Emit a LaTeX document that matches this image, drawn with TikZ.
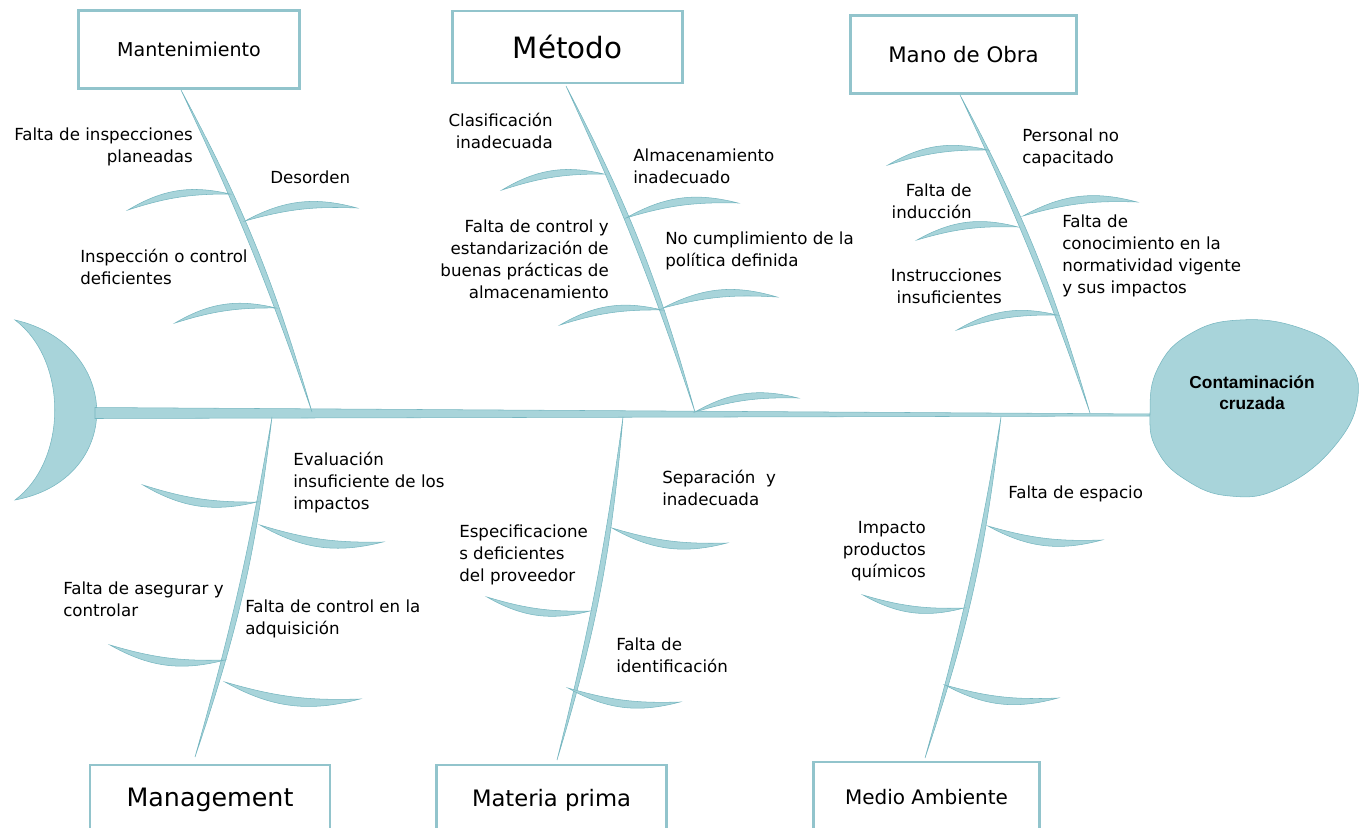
\documentclass[tikz,border=0pt]{standalone}
\usepackage{fontspec}
\setmainfont{DejaVu Sans}
\newfontfamily\effectfont{Liberation Sans}
\usetikzlibrary{positioning,calc}

\definecolor{fishfill}{RGB}{168,212,218}
\definecolor{fishline}{RGB}{118,182,192}
\definecolor{boxline}{RGB}{146,196,204}

\begin{document}
\begin{tikzpicture}[
    x=0.75pt, y=-0.75pt,
    cat/.style={draw=boxline, line width=2.1pt, fill=white, inner sep=0pt},
    cause/.style={inner sep=0pt, font=\fontsize{12.5}{16.5}\selectfont},
    bone/.style={fill=fishfill, draw=fishline, line width=0.4pt}
]
    \clip (0,0) rectangle (1361,828);

    % Tail and backbone
    \coordinate (tail) at (95,413);
    \coordinate (mouth) at (1152,415);
    \draw[bone] (15,320) .. controls (124,345) and (124,480) .. (15,500)
                .. controls (68,460) and (68,360) .. (15,320) -- cycle;
    \draw[bone] ($(tail)+(0,-5.5)$) -- ($(mouth)+(0,-1)$) -- ($(mouth)+(0,1)$) -- ($(tail)+(0,5.5)$) -- cycle;

    % Head
    \draw[bone] plot[smooth cycle, tension=0.75] coordinates {(1150,413) (1158,368) (1190,334) (1240,320) (1300,328) (1343,355) (1358,396) (1333,448) (1280,488) (1230,496) (1186,480) (1157,450)};
    \node[font=\effectfont\bfseries\fontsize{13}{16}\selectfont, align=center] (head) at (1252,393) {Contaminación\\cruzada};

    % Bone ends
    \coordinate (mant-a) at (181,90);
    \coordinate (mant-b) at (312,412);
    \coordinate (metodo-a) at (566,86);
    \coordinate (metodo-b) at (695,412);
    \coordinate (mano-a) at (960,95);
    \coordinate (mano-b) at (1090,413);
    \coordinate (manag-a) at (272,417);
    \coordinate (manag-b) at (195,757);
    \coordinate (materia-a) at (623,417);
    \coordinate (materia-b) at (557,760);
    \coordinate (medio-a) at (1001,417);
    \coordinate (medio-b) at (925,758);

    \draw[bone] (mant-a) to[bend left=6] (mant-b) to[bend right=3] cycle;
    \draw[bone] (metodo-a) to[bend left=6] (metodo-b) to[bend right=3] cycle;
    \draw[bone] (mano-a) to[bend left=6] (mano-b) to[bend right=3] cycle;
    \draw[bone] (manag-a) to[bend left=6] (manag-b) to[bend right=3] cycle;
    \draw[bone] (materia-a) to[bend left=6] (materia-b) to[bend right=3] cycle;
    \draw[bone] (medio-a) to[bend left=6] (medio-b) to[bend right=3] cycle;

    % Ribs above the backbone
    \draw[bone] (128,210) to[bend left=22] (230,194) to[bend right=9] cycle;
    \draw[bone] (245,221) to[bend left=22] (357,208) to[bend right=9] cycle;
    \draw[bone] (175,323) to[bend left=22] (276,308) to[bend right=9] cycle;

    \draw[bone] (502,190) to[bend left=22] (604,174) to[bend right=9] cycle;
    \draw[bone] (626,218) to[bend left=22] (738,203) to[bend right=9] cycle;
    \draw[bone] (560,325) to[bend left=22] (662,310) to[bend right=9] cycle;
    \draw[bone] (663,308) to[bend left=22] (777,297) to[bend right=9] cycle;
    \draw[bone] (695,412) to[bend left=22] (798,398) to[bend right=9] cycle;

    \draw[bone] (888,165) to[bend left=22] (988,150) to[bend right=9] cycle;
    \draw[bone] (1023,216) to[bend left=22] (1137,202) to[bend right=9] cycle;
    \draw[bone] (917,240) to[bend left=22] (1018,227) to[bend right=9] cycle;
    \draw[bone] (957,330) to[bend left=22] (1057,315) to[bend right=9] cycle;

    % Ribs below the backbone
    \draw[bone] (143,485) to[bend right=22] (257,502) to[bend left=9] cycle;
    \draw[bone] (260,525) to[bend right=22] (383,542) to[bend left=9] cycle;
    \draw[bone] (110,645) to[bend right=22] (225,660) to[bend left=9] cycle;
    \draw[bone] (225,682) to[bend right=22] (360,699) to[bend left=9] cycle;

    \draw[bone] (612,528) to[bend right=22] (727,543) to[bend left=9] cycle;
    \draw[bone] (487,597) to[bend right=22] (590,611) to[bend left=9] cycle;
    \draw[bone] (568,688) to[bend right=22] (680,702) to[bend left=9] cycle;

    \draw[bone] (988,526) to[bend right=22] (1102,540) to[bend left=9] cycle;
    \draw[bone] (863,595) to[bend right=22] (964,608) to[bend left=9] cycle;
    \draw[bone] (945,685) to[bend right=22] (1058,698) to[bend left=9] cycle;

    % Categories
    \node[cat, minimum width=166pt, minimum height=58pt, font=\fontsize{14.3}{17}\selectfont] (mant) at (189,49.5) {Mantenimiento};
    \node[cat, minimum width=172pt, minimum height=54pt, font=\fontsize{22}{26}\selectfont] (metodo) at (567.5,47) {Método};
    \node[cat, minimum width=170pt, minimum height=58pt, font=\fontsize{16}{19}\selectfont] (mano) at (963.5,54.5) {Mano de Obra};
    \node[cat, minimum width=180pt, minimum height=52.5pt, font=\fontsize{19}{22}\selectfont] (manag) at (210,800) {Management};
    \node[cat, minimum width=173pt, minimum height=52.5pt, font=\fontsize{17}{20}\selectfont] (materia) at (551.5,800) {Materia prima};
    \node[cat, minimum width=170pt, minimum height=52.5pt, font=\fontsize{15}{18}\selectfont] (medio) at (926.5,797) {Medio Ambiente};

    % Causes
    \node[cause, align=right, anchor=east] (insp) at (193,147) {Falta de inspecciones\\planeadas};
    \node[cause, anchor=west] (desorden) at (270,177) {Desorden};
    \node[cause, align=left, anchor=west] (control) at (80,267) {Inspección o control\\deficientes};

    \node[cause, align=right, anchor=east] (clasif) at (553,131) {Clasificación\\inadecuada};
    \node[cause, align=left, anchor=west] (almac) at (633,166) {Almacenamiento\\inadecuado};
    \node[cause, align=right, anchor=east] (estand) at (609,259) {Falta de control y\\estandarización de\\buenas prácticas de\\almacenamiento};
    \node[cause, align=left, anchor=west] (politica) at (665,251) {No cumplimiento de la\\política definida};

    \node[cause, align=left, anchor=west] (personal) at (1022,148) {Personal no\\capacitado};
    \node[cause, align=right, anchor=east] (induccion) at (972,201) {Falta de\\inducción};
    \node[cause, align=left, anchor=west] (normas) at (1062,256) {Falta de\\conocimiento en la\\normatividad vigente\\y sus impactos};
    \node[cause, align=right, anchor=east] (instruc) at (1002,286) {Instrucciones\\insuficientes};

    \node[cause, align=left, anchor=west] (evalua) at (293,483) {Evaluación\\insuficiente de los\\impactos};
    \node[cause, align=left, anchor=west] (asegurar) at (63,599) {Falta de asegurar y\\controlar};
    \node[cause, align=left, anchor=west] (adquis) at (245,619) {Falta de control en la\\adquisición};

    \node[cause, align=left, anchor=west] (separa) at (662,488) {Separación~ y\\inadecuada};
    \node[cause, align=left, anchor=west] (especif) at (459,555) {Especificacione\\s deficientes\\del proveedor};
    \node[cause, align=left, anchor=west] (ident) at (616,655) {Falta de\\identificación};

    \node[cause, anchor=west] (espacio) at (1008,494) {Falta de espacio};
    \node[cause, align=right, anchor=east] (quimicos) at (926,551) {Impacto\\productos\\químicos};
\end{tikzpicture}
\end{document}
